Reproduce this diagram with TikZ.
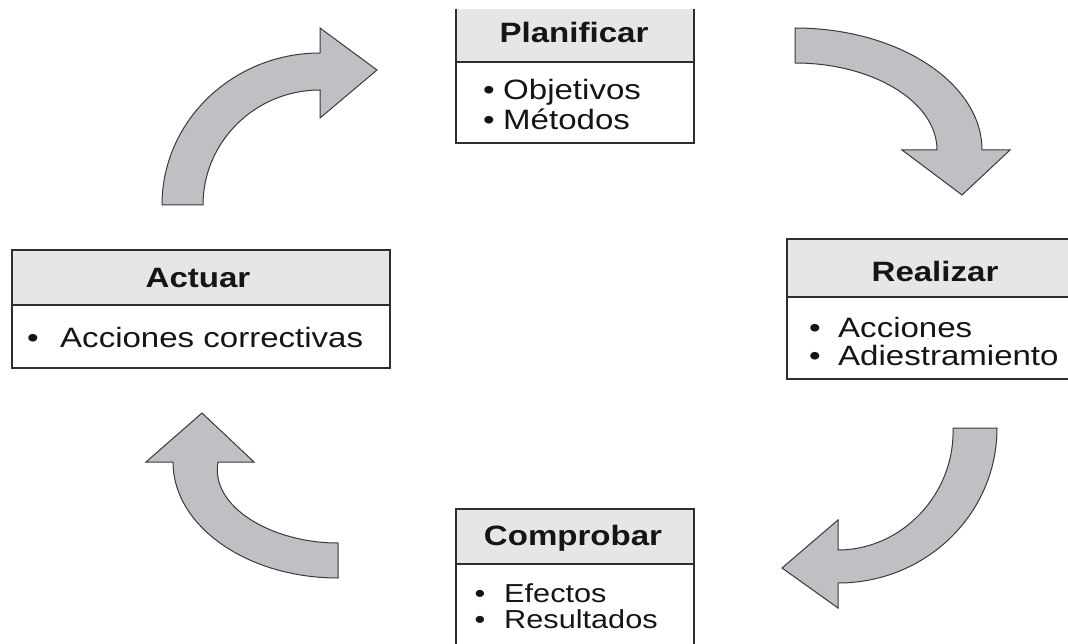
\documentclass[tikz,border=0pt]{standalone}
\usepackage{fontspec}
\setmainfont{Liberation Sans}[FakeStretch=1.18]
\definecolor{hdrgray}{HTML}{E6E6E6}
\definecolor{arrowgray}{HTML}{BFC0C4}
\definecolor{arrowline}{HTML}{3A3A3A}
\definecolor{boxline}{HTML}{2E2E2E}
\definecolor{txt}{HTML}{151515}
\begin{document}
\begin{tikzpicture}[x=1pt,y=-1pt,
  hdrbox/.style={fill=hdrgray, draw=none, inner sep=0pt, outer sep=0pt, anchor=north west},
  bodybox/.style={fill=white, draw=none, inner sep=0pt, outer sep=0pt, anchor=north west},
  frame/.style={draw=boxline, line width=2pt},
  hdrtext/.style={font=\fontsize{28}{30}\selectfont\bfseries, text=txt, inner sep=0pt, anchor=base},
  bodytext/.style={font=\fontsize{28}{30}\selectfont, text=txt, inner sep=0pt, anchor=base west},
  bul/.style={font=\fontsize{28}{30}\selectfont, text=txt, inner sep=0pt, anchor=base},
  smalltext/.style={bodytext, font=\fontsize{26}{26}\selectfont},
  smallbul/.style={bul, font=\fontsize{26}{26}\selectfont},
  bigarrow/.style={fill=arrowgray, draw=arrowline, line width=1pt, line join=miter}]
\clip (0,0) rectangle (1068,644);
\fill[white] (0,0) rectangle (1068,644);

% ---------- Planificar ----------
\node[hdrbox, minimum width=238pt, minimum height=53pt] (planH) at (456,9) {};
\node[bodybox, minimum width=238pt, minimum height=81pt] (planB) at (planH.south west) {};
\draw[frame] (planH.north west) -- (planB.south west) -- (planB.south east) -- (planH.north east);
\draw[frame] (planH.south west) -- (planH.south east);
\node[hdrtext] (planT) at (574,43) {Planificar};
\node[bul] (planD1) at (489,100) {•};
\node[bodytext] (planL1) at (503,100) {Objetivos};
\node[bul] (planD2) at (489,130) {•};
\node[bodytext] (planL2) at (503,130) {Métodos};

% ---------- Realizar ----------
\node[hdrbox, minimum width=303pt, minimum height=58pt] (realH) at (787,239) {};
\node[bodybox, minimum width=303pt, minimum height=82pt] (realB) at (realH.south west) {};
\draw[frame] (realH.north west) rectangle (realB.south east);
\draw[frame] (realH.south west) -- (realH.south east);
\node[hdrtext] (realT) at (935,282) {Realizar};
\node[bul] (realD1) at (815,337) {•};
\node[bodytext] (realL1) at (838,337) {Acciones};
\node[bul] (realD2) at (815,365) {•};
\node[bodytext] (realL2) at (838,365) {Adiestramiento};

% ---------- Comprobar ----------
\node[hdrbox, minimum width=238pt, minimum height=55pt] (compH) at (456,509) {};
\node[bodybox, minimum width=238pt, minimum height=100pt] (compB) at (compH.south west) {};
\draw[frame] (compH.north west) rectangle (compB.south east);
\draw[frame] (compH.south west) -- (compH.south east);
\node[hdrtext] (compT) at (573,545) {Comprobar};
\node[smallbul] (compD1) at (480,602) {•};
\node[smalltext] (compL1) at (504,602) {Efectos};
\node[smallbul] (compD2) at (480,628) {•};
\node[smalltext] (compL2) at (504,628) {Resultados};

% ---------- Actuar ----------
\node[hdrbox, minimum width=378pt, minimum height=55pt] (actH) at (12,250) {};
\node[bodybox, minimum width=378pt, minimum height=63pt] (actB) at (actH.south west) {};
\draw[frame] (actH.north west) rectangle (actB.south east);
\draw[frame] (actH.south west) -- (actH.south east);
\node[hdrtext] (actT) at (198,288) {Actuar};
\node[bul] (actD1) at (33,347) {•};
\node[bodytext] (actL1) at (60,347) {Acciones correctivas};

% ---------- Curved arrows ----------
% top-left (Actuar -> Planificar)
\draw[bigarrow] (162,205) .. controls (162,121) and (233,53) .. (320,53)
  -- (320,28) -- (377,70) -- (320,118) -- (320,90)
  .. controls (255,90) and (203,142) .. (203,205) -- cycle;
% top-right (Planificar -> Realizar)
\draw[bigarrow] (795,28) .. controls (898,28) and (982,83) .. (982,150)
  -- (1010,150) -- (962,195) -- (902,150) -- (937,150)
  .. controls (937,102) and (873,63) .. (795,63) -- cycle;
% bottom-right (Realizar -> Comprobar)
\draw[bigarrow] (997,428) .. controls (997,514) and (926,583) .. (838,583)
  -- (838,608) -- (782,568) -- (838,520) -- (838,550)
  .. controls (901,550) and (955,495) .. (953,428) -- cycle;
% bottom-left (Comprobar -> Actuar)
\draw[bigarrow] (338,578) .. controls (247,578) and (173,526) .. (173,462)
  -- (146,462) -- (202,413) -- (254,462) -- (218,462)
  .. controls (210,507) and (272,543) .. (338,543) -- cycle;
\end{tikzpicture}
\end{document}
